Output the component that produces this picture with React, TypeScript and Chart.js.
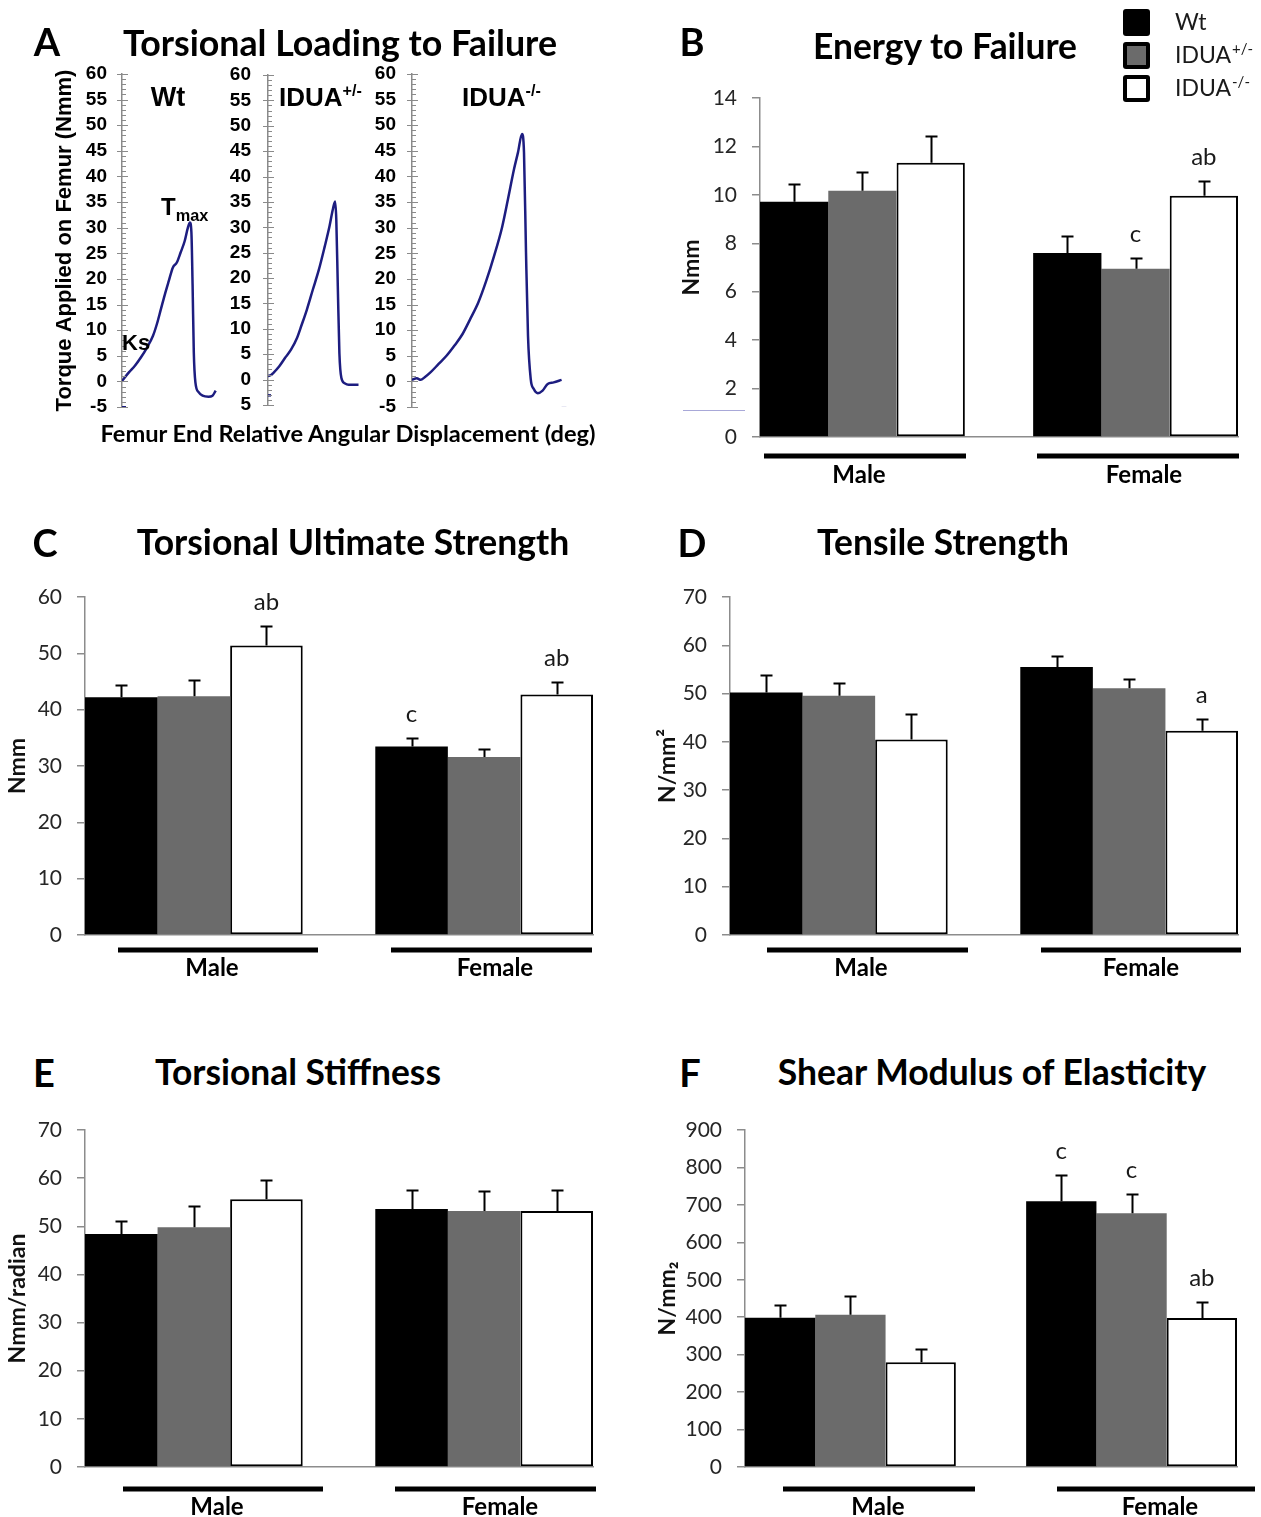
import React, { useEffect, useRef } from 'react';
import { Chart, registerables } from 'chart.js';

Chart.register(...registerables);
Chart.defaults.font.family = 'Lato';

// ---------------- shared categories ----------------
const GROUPS = ['Male', 'Female'];
const SERIES_NAMES = ['Wt', 'IDUA+/-', 'IDUA-/-'];
const SERIES_BASE = ['Wt', 'IDUA', 'IDUA'];
const SERIES_SUP = ['', '+/-', '-/-'];
const BAR_FILL = ['#000000', '#6b6b6b', '#ffffff'];
const BAR_EDGE = ['#000000', '#6b6b6b', '#000000'];
const BAR_BORDER = [0, 0, 2];

// ---------------- A: torsional loading curves ----------------
const wtDisp = [0, 7.1, 13.1, 19, 25, 31, 34.9, 38.9, 42.9, 46.8, 50.8, 54.8, 58.7, 62.7, 65.9, 67.9, 69.4, 70.6, 71.8, 73.4, 76.6, 80.6, 86.5, 90.5, 93.7];
const wtTorque = [0.1, 1.8, 3.1, 4.7, 6.6, 8.9, 11.2, 14.1, 17.0, 19.6, 22.2, 23.2, 25.2, 27.4, 30.0, 31.0, 29.1, 18.7, 5.7, -0.2, -2.1, -2.8, -3.0, -2.8, -1.8];
const hetDisp = [0, 3, 5.2, 11.1, 17.1, 23, 29, 33.7, 38.9, 44.8, 50.8, 56.7, 61.5, 64.7, 67.1, 68.3, 69.8, 71.4, 73.4, 76.6, 80.6, 90.5];
const hetTorque = [0.7, 0.9, 1.3, 2.6, 4.3, 5.9, 8.2, 10.8, 13.8, 17.7, 21.6, 26.2, 30.2, 33.4, 35.1, 31.5, 18.4, 5.2, 0.3, -0.7, -1.0, -1.0];
const koDisp = [0, 4.8, 8.7, 12.7, 18.7, 26.6, 34.5, 42.5, 50.4, 58.3, 66.3, 74.2, 82.1, 90.1, 96, 102, 106, 110, 112, 114, 116, 118.7, 121.8, 125.8, 130.6, 135.7, 141.7, 149.6];
const koTorque = [0.3, 0.6, 0.3, 0.8, 1.8, 3.4, 5.0, 7.0, 9.2, 12.2, 15.4, 19.6, 24.5, 30.1, 35.6, 41.4, 44.7, 48.3, 44.7, 25.2, 8.9, 0.5, -1.5, -2.3, -1.8, -0.5, -0.2, 0.3];
// small stray trace marks seen in the original plot
const wtMarkDisp = [0, 4];
const wtMarkTorque = [-5.05, -5.05];
const hetMarkDisp = [0, 3];
const hetMarkTorque = [-3.1, -3.1];
const koMarkDisp = [149.6, 154.4];
const koMarkTorque = [-5.2, -5.2];
const torqueTickValues = [-5, 0, 5, 10, 15, 20, 25, 30, 35, 40, 45, 50, 55, 60];
const torqueTickLabels = ['-5', '0', '5', '10', '15', '20', '25', '30', '35', '40', '45', '50', '55', '60'];
const hetTickLabels = ['5', '0', '5', '10', '15', '20', '25', '30', '35', '40', '45', '50', '55', '60'];

// ---------------- B: energy to failure (Nmm) ----------------
const energyWt = [9.72, 7.6];
const energyHet = [10.17, 6.95];
const energyKo = [11.33, 9.96];
const energyWtErr = [0.72, 0.7];
const energyHetErr = [0.76, 0.45];
const energyKoErr = [1.11, 0.63];
const energyWtSig = ['', ''];
const energyHetSig = ['', 'c'];
const energyKoSig = ['', 'ab'];
const energyAxis = [0, 14, 2];

// ---------------- C: torsional ultimate strength (Nmm) ----------------
const strengthWt = [42.2, 33.45];
const strengthHet = [42.4, 31.6];
const strengthKo = [51.4, 42.7];
const strengthWtErr = [2.2, 1.55];
const strengthHetErr = [2.8, 1.4];
const strengthKoErr = [3.4, 2.2];
const strengthWtSig = ['', 'c'];
const strengthHetSig = ['', ''];
const strengthKoSig = ['ab', 'ab'];
const strengthAxis = [0, 60, 10];

// ---------------- D: tensile strength (N/mm2) ----------------
const tensileWt = [50.2, 55.5];
const tensileHet = [49.55, 51.1];
const tensileKo = [40.5, 42.3];
const tensileWtErr = [3.6, 2.2];
const tensileHetErr = [2.65, 1.9];
const tensileKoErr = [5.2, 2.5];
const tensileWtSig = ['', ''];
const tensileHetSig = ['', ''];
const tensileKoSig = ['', 'a'];
const tensileAxis = [0, 70, 10];

// ---------------- E: torsional stiffness (Nmm/radian) ----------------
const stiffWt = [48.4, 53.6];
const stiffHet = [49.8, 53.2];
const stiffKo = [55.6, 53.2];
const stiffWtErr = [2.8, 3.9];
const stiffHetErr = [4.4, 4.1];
const stiffKoErr = [4.0, 4.4];
const stiffWtSig = ['', ''];
const stiffHetSig = ['', ''];
const stiffKoSig = ['', ''];
const stiffAxis = [0, 70, 10];

// ---------------- F: shear modulus (N/mm2) ----------------
const shearWt = [398.9, 709.8];
const shearHet = [406.9, 677.9];
const shearKo = [279.8, 398];
const shearWtErr = [32.9, 71.1];
const shearHetErr = [50.6, 51.5];
const shearKoErr = [36.5, 42.7];
const shearWtSig = ['', 'c'];
const shearHetSig = ['', 'c'];
const shearKoSig = ['', 'ab'];
const shearAxis = [0, 900, 100];

// ---------------- layout (styles / positions only) ----------------
type Box = { left: number; top: number; width: number; height: number };
type Area = { left: number; top: number; right: number; bottom: number };

const BAR_PANELS = [
  {
    key: 'B', yTitle: 'Nmm', axis: energyAxis,
    values: [energyWt, energyHet, energyKo], errors: [energyWtErr, energyHetErr, energyKoErr], letters: [energyWtSig, energyHetSig, energyKoSig],
    box: { left: 660, top: 0, width: 601, height: 500 }, area: { left: 760, top: 98, right: 1238, bottom: 437 },
    yTitleX: 692, lines: [[764, 966], [1037, 1239]], labelX: [859, 1144], lineDy: 19, labelDy: 37, legend: true,
  },
  {
    key: 'C', yTitle: 'Nmm', axis: strengthAxis,
    values: [strengthWt, strengthHet, strengthKo], errors: [strengthWtErr, strengthHetErr, strengthKoErr], letters: [strengthWtSig, strengthHetSig, strengthKoSig],
    box: { left: 0, top: 560, width: 640, height: 440 }, area: { left: 85, top: 597, right: 593, bottom: 935 },
    yTitleX: 18, lines: [[118, 318], [391, 592]], labelX: [212, 495], lineDy: 15, labelDy: 32, legend: false,
  },
  {
    key: 'D', yTitle: 'N/mm\u00B2', axis: tensileAxis,
    values: [tensileWt, tensileHet, tensileKo], errors: [tensileWtErr, tensileHetErr, tensileKoErr], letters: [tensileWtSig, tensileHetSig, tensileKoSig],
    box: { left: 640, top: 560, width: 621, height: 440 }, area: { left: 730, top: 597, right: 1238, bottom: 935 },
    yTitleX: 668, lines: [[767, 968], [1041, 1241]], labelX: [861, 1141], lineDy: 15, labelDy: 32, legend: false,
  },
  {
    key: 'E', yTitle: 'Nmm/radian', axis: stiffAxis,
    values: [stiffWt, stiffHet, stiffKo], errors: [stiffWtErr, stiffHetErr, stiffKoErr], letters: [stiffWtSig, stiffHetSig, stiffKoSig],
    box: { left: 0, top: 1100, width: 640, height: 417 }, area: { left: 85, top: 1130, right: 593, bottom: 1467 },
    yTitleX: 18, lines: [[123, 323], [395, 596]], labelX: [217, 500], lineDy: 22, labelDy: 39, legend: false,
  },
  {
    key: 'F', yTitle: 'N/mm\u2082', axis: shearAxis,
    values: [shearWt, shearHet, shearKo], errors: [shearWtErr, shearHetErr, shearKoErr], letters: [shearWtSig, shearHetSig, shearKoSig],
    box: { left: 640, top: 1100, width: 621, height: 417 }, area: { left: 745, top: 1130, right: 1237, bottom: 1467 },
    yTitleX: 668, lines: [[783, 975], [1057, 1255]], labelX: [878, 1160], lineDy: 22, labelDy: 39, legend: false,
  },
];

const TORQUE_SUBS = [
  {
    key: 'wt', disp: wtDisp, torque: wtTorque, markDisp: wtMarkDisp, markTorque: wtMarkTorque, tickLabels: torqueTickLabels,
    box: { left: 30, top: 30, width: 200, height: 412 }, area: { left: 122, top: 74, right: 222, bottom: 407 }, xMax: 100, labelPad: 15,
    title: 'Torque Applied on Femur (Nmm)', titleX: 65,
  },
  {
    key: 'het', disp: hetDisp, torque: hetTorque, markDisp: hetMarkDisp, markTorque: hetMarkTorque, tickLabels: hetTickLabels,
    box: { left: 230, top: 30, width: 140, height: 412 }, area: { left: 268, top: 75, right: 363, bottom: 405 }, xMax: 95, labelPad: 17,
    title: '', titleX: 0,
  },
  {
    key: 'ko', disp: koDisp, torque: koTorque, markDisp: koMarkDisp, markTorque: koMarkTorque, tickLabels: torqueTickLabels,
    box: { left: 370, top: 30, width: 210, height: 412 }, area: { left: 412, top: 74, right: 567, bottom: 407 }, xMax: 155, labelPad: 16,
    title: '', titleX: 0,
  },
];

const NAVY = '#1d1d80';

const TITLES = [
  { text: 'Torsional Loading to Failure', cx: 340, cy: 43, w: 434 },
  { text: 'Energy to Failure', cx: 945, cy: 46, w: 265 },
  { text: 'Torsional Ultimate Strength', cx: 353, cy: 542, w: 433 },
  { text: 'Tensile Strength', cx: 943, cy: 542, w: 252 },
  { text: 'Torsional Stiffness', cx: 298, cy: 1072, w: 286 },
  { text: 'Shear Modulus of Elasticity', cx: 992, cy: 1072, w: 430 },
];
const PANEL_LETTERS = [
  { t: 'A', x: 47, y: 41 }, { t: 'B', x: 692, y: 41 }, { t: 'C', x: 45, y: 542 },
  { t: 'D', x: 692, y: 542 }, { t: 'E', x: 44, y: 1072 }, { t: 'F', x: 690, y: 1072 },
];

// ---------------- helpers ----------------
let measureCtx: CanvasRenderingContext2D | null = null;
function fitFont(text: string, weight: string, family: string, target: number) {
  if (!measureCtx) measureCtx = document.createElement('canvas').getContext('2d');
  if (!measureCtx) return 30;
  measureCtx.font = `${weight} 100px ${family}`;
  return (100 * target) / measureCtx.measureText(text).width;
}

function Txt({ x, y, size, weight = 'normal', family = 'Lato', align = 'center', color = '#000', children }: any) {
  const tx = align === 'center' ? '-50%' : align === 'right' ? '-100%' : '0';
  return (
    <div
      style={{
        position: 'absolute', left: x, top: y, transform: `translate(${tx}, -50%)`,
        fontSize: size, fontWeight: weight as any, fontFamily: family, whiteSpace: 'nowrap', lineHeight: 1, color,
      }}
    >
      {children}
    </div>
  );
}

function ChartCanvas({ box, make }: { box: Box; make: () => any }) {
  const ref = useRef<HTMLCanvasElement | null>(null);
  useEffect(() => {
    if (!ref.current) return;
    const chart = new Chart(ref.current, make());
    return () => chart.destroy();
  }, []);
  return (
    <canvas
      ref={ref}
      width={box.width}
      height={box.height}
      style={{ position: 'absolute', left: box.left, top: box.top, width: box.width, height: box.height }}
    />
  );
}

function paddingFor(box: Box, area: Area) {
  return {
    left: 0,
    top: area.top - box.top,
    right: box.left + box.width - area.right,
    bottom: box.top + box.height - area.bottom,
  };
}

// ---------------- bar panel config ----------------
function makeBarDecor(p: any) {
  return {
    id: 'decor' + p.key,
    afterDatasetsDraw(chart: any) {
      const ctx = chart.ctx;
      const ys = chart.scales.y;
      const area = chart.chartArea;
      ctx.save();
      // error bars and significance letters
      chart.data.datasets.forEach((_: any, i: number) => {
        const meta = chart.getDatasetMeta(i);
        meta.data.forEach((bar: any, j: number) => {
          const v = p.values[i][j];
          const e = p.errors[i][j];
          const yTop = ys.getPixelForValue(v);
          const yErr = Math.round(ys.getPixelForValue(v + e)) + 0.5;
          const x = Math.round(bar.x) + 0.5;
          ctx.strokeStyle = '#000';
          ctx.lineWidth = 2;
          ctx.beginPath();
          ctx.moveTo(x, yTop);
          ctx.lineTo(x, yErr);
          ctx.moveTo(x - 6, yErr);
          ctx.lineTo(x + 6, yErr);
          ctx.stroke();
          const letter = p.letters[i][j];
          if (letter) {
            ctx.fillStyle = '#1a1a1a';
            ctx.font = '24px Lato';
            ctx.textAlign = 'center';
            ctx.textBaseline = 'alphabetic';
            ctx.fillText(letter, bar.x, yErr - 25 + 8);
          }
        });
      });
      // group underlines and labels
      GROUPS.forEach((g, j) => {
        const [x0, x1] = p.lines[j];
        ctx.fillStyle = '#000';
        ctx.fillRect(x0 - p.box.left, area.bottom + p.lineDy - 2.5, x1 - x0, 5);
        ctx.font = 'bold 24px Lato';
        ctx.textAlign = 'center';
        ctx.textBaseline = 'alphabetic';
        ctx.fillText(g, p.labelX[j] - p.box.left, area.bottom + p.labelDy + 8.5);
      });
      if (p.legend) {
        // stray rule seen left of the axis in the original
        ctx.strokeStyle = '#a8a8d8';
        ctx.lineWidth = 1;
        ctx.beginPath();
        ctx.moveTo(683 - p.box.left, 410.5 - p.box.top);
        ctx.lineTo(745 - p.box.left, 410.5 - p.box.top);
        ctx.stroke();
        // legend
        const tops = [9, 42, 75];
        chart.data.datasets.forEach((ds: any, i: number) => {
          const lx = 1123 - p.box.left;
          const ty = tops[i] - p.box.top;
          ctx.fillStyle = '#000';
          ctx.beginPath();
          ctx.roundRect(lx, ty, 27, 27, 3);
          ctx.fill();
          if (i > 0) {
            ctx.fillStyle = ds.backgroundColor;
            ctx.fillRect(lx + 4, ty + 4, 19, 19);
          }
          const base = SERIES_BASE[i];
          const sup = SERIES_SUP[i];
          const tx = 1175 - p.box.left;
          const by = ty + 13 + 8;
          ctx.fillStyle = '#1a1a1a';
          ctx.textAlign = 'left';
          ctx.textBaseline = 'alphabetic';
          ctx.font = '23px Lato';
          ctx.fillText(base, tx, by);
          if (sup) {
            const w = ctx.measureText(base).width;
            ctx.font = '15px Lato';
            ctx.fillText(sup, tx + w + 1, by - 9);
          }
        });
      }
      ctx.restore();
    },
  };
}

function barConfig(p: any) {
  const { box, area } = p;
  return {
    type: 'bar',
    data: {
      datasets: SERIES_NAMES.map((name, i) => ({
        label: name,
        data: GROUPS.map((_, j) => ({ x: j, y: p.values[i][j] })),
        backgroundColor: BAR_FILL[i],
        borderColor: BAR_EDGE[i],
        borderWidth: BAR_BORDER[i],
        borderSkipped: false,
        categoryPercentage: 0.75,
        barPercentage: 1,
      })),
    },
    options: {
      responsive: false,
      animation: false,
      events: [],
      layout: { padding: paddingFor(box, area) },
      plugins: { legend: { display: false }, tooltip: { enabled: false }, title: { display: false } },
      scales: {
        x: {
          type: 'linear',
          min: -0.375,
          max: 1.375,
          bounds: 'data',
          offset: false,
          grid: { display: false, drawTicks: false },
          ticks: { display: false },
          border: { display: true, color: '#8c8c8c', width: 1.5 },
          afterBuildTicks: (s: any) => { s.ticks = [{ value: 0 }, { value: 1 }]; },
          afterFit: (s: any) => { s.height = 0; },
        },
        y: {
          min: p.axis[0],
          max: p.axis[1],
          ticks: { stepSize: p.axis[2], autoSkip: false, font: { family: 'Lato', size: 21 }, color: '#262626', padding: 15 },
          grid: { display: true, drawOnChartArea: false, drawTicks: true, tickLength: 8, color: '#8c8c8c', lineWidth: 1.5 },
          border: { display: true, color: '#8c8c8c', width: 1.5 },
          title: {
            display: true, text: p.yTitle, color: '#111',
            font: { family: 'Lato', size: 23, weight: 'bold' },
            padding: { top: p.yTitleX - box.left - 13.8, bottom: 0 },
          },
          afterFit: (s: any) => { s.width = area.left - box.left; },
        },
      },
    },
    plugins: [makeBarDecor(p)],
  };
}

// ---------------- torque curve config ----------------
const torqueTickPlugin = {
  id: 'torqueTicks',
  afterDraw(chart: any) {
    const ys = chart.scales.y;
    const x0 = chart.chartArea.left;
    const ctx = chart.ctx;
    ctx.save();
    ctx.strokeStyle = '#8a8a8a';
    ctx.lineWidth = 1;
    ys.ticks.forEach((t: any) => {
      const py = Math.round(ys.getPixelForValue(t.value)) + 0.5;
      const major = torqueTickValues.includes(t.value);
      ctx.beginPath();
      ctx.moveTo(major ? x0 - 5 : x0, py);
      ctx.lineTo(x0 + (major ? 6 : 4), py);
      ctx.stroke();
    });
    ctx.restore();
  },
};

function torqueConfig(s: any) {
  const { box, area } = s;
  return {
    type: 'line',
    data: {
      datasets: [
        {
          data: s.disp.map((x: number, i: number) => ({ x, y: s.torque[i] })),
          borderColor: NAVY, borderWidth: 2.5, pointRadius: 0, cubicInterpolationMode: 'monotone', fill: false,
        },
        {
          data: s.markDisp.map((x: number, i: number) => ({ x, y: s.markTorque[i] })),
          borderColor: s.key === 'ko' ? '#9a9ac8' : NAVY, borderWidth: 2.5, pointRadius: 0, fill: false,
        },
      ],
    },
    options: {
      responsive: false,
      animation: false,
      events: [],
      layout: { padding: paddingFor(box, area) },
      plugins: { legend: { display: false }, tooltip: { enabled: false } },
      scales: {
        x: { type: 'linear', min: 0, max: s.xMax, display: false },
        y: {
          min: -5,
          max: 60,
          ticks: {
            stepSize: 1, autoSkip: false, padding: s.labelPad, color: '#000',
            font: { family: 'Liberation Sans', size: 19, weight: 'bold' },
            callback: (v: number) => {
              const k = torqueTickValues.indexOf(v);
              return k >= 0 ? s.tickLabels[k] : '';
            },
          },
          grid: { display: false, drawTicks: false },
          border: { display: true, color: '#8a8a8a', width: 1.5 },
          title: {
            display: !!s.title, text: s.title, color: '#000',
            font: { family: 'Liberation Sans', size: 22, weight: 'bold' },
            padding: { top: s.titleX - box.left - 13.2, bottom: 0 },
          },
          afterFit: (sc: any) => { sc.width = area.left - box.left; },
        },
      },
    },
    plugins: [torqueTickPlugin],
  };
}

// ---------------- app ----------------
const supStyle: React.CSSProperties = { fontSize: '0.62em', position: 'relative', top: '-0.62em' };
const subStyle: React.CSSProperties = { fontSize: '0.68em', position: 'relative', top: '0.35em' };

export default function App() {
  return (
    <div style={{ position: 'absolute', left: 0, top: 0, width: 1261, height: 1517, background: '#fff', overflow: 'hidden' }}>
      {TORQUE_SUBS.map((s) => (
        <ChartCanvas key={s.key} box={s.box} make={() => torqueConfig(s)} />
      ))}
      {BAR_PANELS.map((p) => (
        <ChartCanvas key={p.key} box={p.box} make={() => barConfig(p)} />
      ))}

      {PANEL_LETTERS.map((l) => (
        <Txt key={l.t} x={l.x} y={l.y} size={38} weight="bold">{l.t}</Txt>
      ))}
      {TITLES.map((t) => (
        <Txt key={t.text} x={t.cx} y={t.cy} size={fitFont(t.text, 'bold', 'Lato', t.w)} weight="bold">{t.text}</Txt>
      ))}

      {/* panel A annotations */}
      <Txt x={168} y={97} size={27} weight="bold" family="Liberation Sans">Wt</Txt>
      <Txt x={279} y={97} size={26} weight="bold" family="Liberation Sans" align="left">IDUA<span style={supStyle}>+/-</span></Txt>
      <Txt x={462} y={97} size={26} weight="bold" family="Liberation Sans" align="left">IDUA<span style={supStyle}>-/-</span></Txt>
      <Txt x={161} y={207} size={24} weight="bold" family="Liberation Sans" align="left">T<span style={subStyle}>max</span></Txt>
      <Txt x={122} y={343} size={22} weight="bold" family="Liberation Sans" align="left">Ks</Txt>
      <Txt
        x={348}
        y={434}
        size={fitFont('Femur End Relative Angular Displacement (deg)', 'bold', 'Lato', 497)}
        weight="bold"
      >
        Femur End Relative Angular Displacement (deg)
      </Txt>
    </div>
  );
}
